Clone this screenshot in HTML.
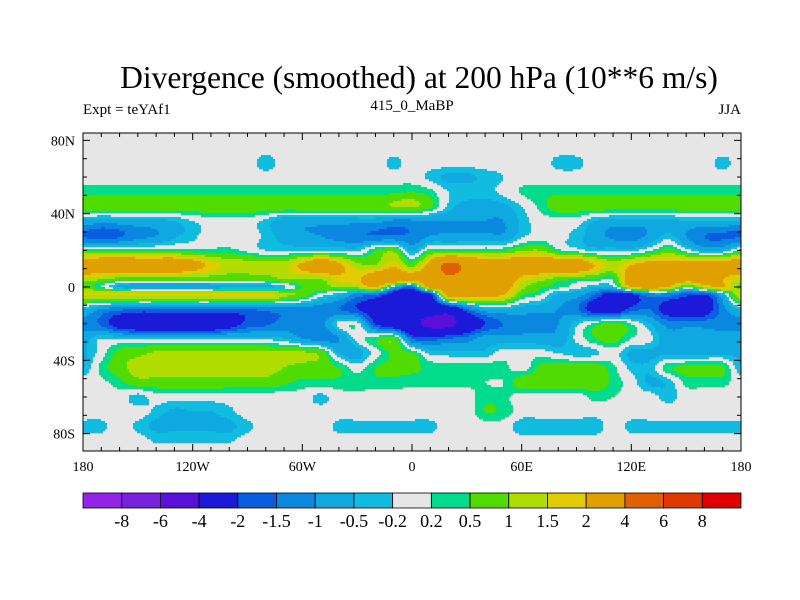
<!DOCTYPE html>
<html><head><meta charset="utf-8"><style>
body{margin:0;background:#fff;width:800px;height:600px;overflow:hidden;font-family:"Liberation Serif",serif}
svg{position:absolute;left:0;top:0}
</style></head><body>
<svg id="chart" width="800" height="600">
<text x="419" y="88" text-anchor="middle" font-size="31.5" font-family="Liberation Serif">Divergence (smoothed) at 200 hPa (10**6 m/s)</text>
<text x="83" y="114" font-size="15" font-family="Liberation Serif">Expt = teYAf1</text>
<text x="412" y="110" text-anchor="middle" font-size="15" font-family="Liberation Serif">415_0_MaBP</text>
<text x="741" y="114" text-anchor="end" font-size="15" font-family="Liberation Serif">JJA</text>
<g id="field"></g>
<g id="axes"></g>
<g id="cbar"></g>
</svg>
<script>
const lons=[];for(let l=-180;l<=180;l+=10)lons.push(l);
const lats=[84,76,68,60,52,44,36,28,20,12,4,0,-4,-12,-20,-28,-36,-44,-52,-60,-68,-76,-84,-90];
const levels=[-8,-6,-4,-2,-1.5,-1,-0.5,-0.2,0.2,0.5,1,1.5,2,4,6,8];
const levelLabels=["-8","-6","-4","-2","-1.5","-1","-0.5","-0.2","0.2","0.5","1","1.5","2","4","6","8"];
const colors=['#9225e8','#7a20e0','#5a10d8','#1a1ad8','#0a5ce0','#0a88e0','#10a8e0','#10bce0','#e6e6e6','#00dc8c','#50dc00','#b0dc00','#e0cc00','#e0a000','#e06000','#e03800','#e00000'];
const xTickLabels=["180","120W","60W","0","60E","120E","180"];
const xTickLons=[-180,-120,-60,0,60,120,180];
const yTickLabels=["80N","40N","0","40S","80S"];
const yTickLats=[80,40,0,-40,-80];
const row84=[0,0,0,0,0,0,0,0,0,0,0,0,0,0,0,0,0,0,0,0,0,0,0,0,0,0,0,0,0,0,0,0,0,0,0,0,0];
const row76=[0,0,0,0,0,0,0,0,0,0,0,0,0,0,0,0,0,0,0,0,0,0,0,0,0,0,0,0,0,0,0,0,0,0,0,0,0];
const row68=[0,0,0,0,0,0,0,0,0,0,-0.35,0,0,0,0,0,0,-0.3,0,0,0,0,0,0,0,0,-0.3,-0.3,0,0,0,0,0,0,0,-0.3,0];
const row60=[0,0,0,0,0,0,0,0,0,0,0,0,0,0,0,0,0,0,0,-0.3,-0.6,-0.6,-0.4,-0.2,0,0,0,0,0,0,0,0,0,0,0,0,0];
const row52=[0.4,0.4,0.4,0.4,0.4,0.4,0.4,0.4,0.4,0.4,0.4,0.4,0.4,0.4,0.4,0.4,0.4,0.4,0.5,0.3,-0.2,-0.3,-0.3,-0.1,0.25,0.4,0.4,0.4,0.4,0.4,0.4,0.4,0.4,0.4,0.4,0.4,0.4];
const row44=[0.8,0.8,0.8,0.8,0.8,0.8,0.8,0.8,0.8,0.8,0.8,0.8,0.8,0.8,0.8,0.8,0.8,1.0,1.1,0.6,-0.3,-0.7,-0.8,-0.6,-0.2,0.3,0.75,0.75,0.75,0.75,0.75,0.75,0.75,0.75,0.75,0.75,0.8];
const row36=[-0.6,-0.8,-0.7,-0.6,-0.6,-0.5,-0.2,0,0,0,-0.3,-0.8,-0.8,-0.8,-0.8,-0.8,-0.8,-1.1,-1.1,-1.0,-1.0,-1.0,-1.0,-1.0,-0.4,0,0,0,-0.5,-0.7,-0.7,-0.7,-0.7,-0.5,-0.5,-0.5,-0.6];
const row28=[-1.6,-1.8,-1.6,-1.2,-1.0,-0.6,-0.3,0,0,0,-0.3,-0.7,-0.9,-1.0,-1.2,-1.4,-1.5,-1.5,-1.4,-1.0,-0.9,-0.9,-0.9,-0.9,-0.3,0,-0.1,-0.3,-0.8,-1.1,-1.2,-0.9,-0.4,-1.0,-1.5,-1.6,-1.6];
const row20=[0.3,0.35,0.35,0.35,0.35,0.4,0.3,0.3,0.3,0.1,-0.2,-0.2,-0.2,-0.2,-0.2,-0.3,0.5,0.8,-0.6,0.4,0.5,0.5,0.5,0.5,0.9,1.0,0.3,0,-0.3,-0.3,-0.3,0.1,0.7,0,-0.6,-0.5,0.3];
const row12=[3,3,3,3,3,3,2.5,1.8,1.3,1.3,1.3,1.3,2.2,3,2.2,1.2,1.0,1.8,0.8,2.5,4.5,3.5,3,3,3,3,3,3,2.0,1.3,2,2.5,2.5,2.5,2.5,2.5,3];
const row4=[1.3,1.0,0.7,0.6,0.6,0.6,0.6,0.6,0.6,0.6,0.7,1.0,1.0,1.0,1.7,1.8,3,3,2.5,3,3.5,3,3,3,1.7,1.2,0.7,0.5,0.4,0.3,3,3.5,3,2.5,2.5,2,1.3];
const row0=[0.8,0.2,-0.6,-0.8,-0.8,-0.8,-0.8,-0.8,-0.6,-0.6,-0.6,-0.3,0.5,0.8,1.0,1.2,2.0,-0.5,-1.5,2.5,2.5,2.5,2.5,2.5,1.2,0.6,0.3,0,-0.5,-0.3,2,2.5,2,0.3,1.5,2,0.8];
const rowS4=[1.5,1.6,1.6,1.6,1.6,1.6,1.6,1.6,1.8,1.8,1.8,1.2,0.8,0,-0.4,-1.2,-1.5,-2.5,-3,-2.2,2.5,2.5,2.5,2,0.6,0.2,-0.6,-0.8,-1.5,-2.5,-2.2,-1.2,-1.2,-1.8,-2,-0.5,1.5];
const rowS12=[-0.4,-1.0,-1.3,-1.5,-1.5,-1.5,-1.5,-1.5,-1.5,-1.5,-1.3,-1.2,-1.2,-1.3,-1.5,-2,-2.6,-3.2,-3.2,-3,-3,-1.5,-0.6,-0.5,-0.7,-0.8,-1.0,-1.4,-2.5,-2.8,-1.8,-1.5,-2.5,-2.8,-2.6,-1.2,-0.4];
const rowS20=[-1.2,-1.6,-2.5,-3,-3,-3,-3,-3,-2.5,-1.8,-1.6,-1.3,-1.2,-1.2,-0.1,0,-2.0,-3,-3.5,-4.5,-4.5,-3,-2,-1.5,-1.3,-1.2,-1.0,-0.3,0.3,0.7,0.2,-0.5,-1.2,-1.2,-1.2,-1.2,-1.2];
const rowS28=[-0.7,-0.2,-0.3,-0.3,-0.3,-0.3,-0.3,-0.3,-0.3,-0.3,-0.3,-0.5,-1.0,-1.3,-1.0,0,0.4,0.7,-1.6,-1.8,-1.5,-1.3,-0.8,-0.8,-0.8,-0.8,-0.8,-0.1,0.5,0.7,0.2,-0.1,-0.8,-0.8,-0.8,-0.8,-0.7];
const rowS36=[-0.6,0,0.7,0.8,1.1,1.1,1.1,1.1,1.1,1.1,1.1,1.1,1.1,0.8,-0.5,-0.7,0,0.6,0.5,-0.3,-0.4,-0.4,-0.4,0,0,0,-0.2,-0.4,-0.3,0,-0.6,-0.6,-0.6,-0.6,-0.6,-0.6,-0.6];
const rowS44=[-0.5,0.3,0.8,1.2,1.2,1.2,1.2,1.2,1.2,1.2,1.2,1.0,0.8,0.7,0.5,0,0.5,0.6,0.6,0.4,0.4,0.4,0.4,0.3,0,0.6,0.8,0.8,0.8,0.3,-0.3,-0.4,0.4,0.6,0.6,0.6,-0.5];
const rowS52=[0,0.1,0.4,0.8,0.8,0.8,0.8,0.8,0.8,0.8,0.8,0.6,0.4,0.4,0.4,0.4,0.4,0.4,0.3,0.3,0.3,0.3,0.2,0.2,0.8,0.8,0.8,0.8,0.8,0.4,0,-0.6,-0.4,0.3,0.3,0.3,0];
const rowS60=[0,0,0,-0.35,0,0,0,0,0,0,0,0,0,-0.3,0,0,0,0,0,0,0,0,0.4,0.3,0,0,0,0,0.3,0.2,0,0,-0.35,0,0,0,0];
const rowS68=[0,0,0,0,-0.3,-0.6,-0.5,-0.5,-0.3,0,0,0,0,0,0,0,0,0,0,0,0,0,0.5,0.4,0,0,0,0,0,0,0,0,0,0,0,0,0];
const rowS76=[-0.3,-0.3,0,-0.3,-0.6,-0.6,-0.6,-0.6,-0.6,-0.3,0,0,0,0,-0.3,-0.3,-0.3,-0.3,-0.3,-0.3,0,0,0,0,-0.4,-0.4,-0.4,-0.4,-0.4,0,-0.3,-0.3,-0.3,-0.3,-0.3,-0.3,-0.3];
const rowS84=[0,0,0,0,-0.25,-0.25,-0.25,-0.25,-0.25,0,0,0,0,0,0,0,0,0,0,0,0,0,0,0,0,0,0,0,0,0,0,0,0,0,0,0,0];
const rowS90=[0,0,0,0,0,0,0,0,0,0,0,0,0,0,0,0,0,0,0,0,0,0,0,0,0,0,0,0,0,0,0,0,0,0,0,0,0];
const field=[row84,row76,row68,row60,row52,row44,row36,row28,row20,row12,row4,row0,rowS4,rowS12,rowS20,rowS28,rowS36,rowS44,rowS52,rowS60,rowS68,rowS76,rowS84,rowS90];

const NS='http://www.w3.org/2000/svg';
const X0=83,X1=741,Y0=133,Y1=451;
const xScale=lon=>X0+(lon+180)*(X1-X0)/360;
const yScale=lat=>287-lat*1.833;
const lonOf=x=>(x-X0)*360/(X1-X0)-180;
const latOf=y=>(287-y)/1.833;
function colorIdx(v){let k=0;while(k<levels.length&&v>=levels[k])k++;return k;}
function cr(p0,p1,p2,p3,t){
  return 0.5*((2*p1)+(-p0+p2)*t+(2*p0-5*p1+4*p2-p3)*t*t+(-p0+3*p1-3*p2+p3)*t*t*t);
}
function rowAt(j,lon){
  const r=field[Math.max(0,Math.min(field.length-1,j))];
  let i=Math.min(lons.length-2,Math.max(0,Math.floor((lon-lons[0])/10)));
  let t=Math.max(0,Math.min(1,(lon-lons[i])/10));
  const g=k=>r[Math.max(0,Math.min(r.length-1,k))];
  return cr(g(i-1),g(i),g(i+1),g(i+2),t);
}
function sample(lon,lat){
  let j=0;while(j<lats.length-2&&lat<lats[j+1])j++;
  let t=(lats[j]-lat)/(lats[j]-lats[j+1]);t=Math.max(0,Math.min(1,t));
  return cr(rowAt(j-1,lon),rowAt(j,lon),rowAt(j+1,lon),rowAt(j+2,lon),t);
}
function mk(tag,attrs,parent){const e=document.createElementNS(NS,tag);for(const k in attrs)e.setAttribute(k,attrs[k]);parent.appendChild(e);return e;}
const fg=document.getElementById('field');
const bg=mk('rect',{x:X0,y:Y0,width:X1-X0,height:Y1-Y0,fill:colors[8]},fg);


const S=2;
for(let y=Y0;y<Y1;y+=S){
  const lat=latOf(y+S/2);
  let runStart=X0,runC=-1;
  for(let x=X0;x<=X1;x+=S){
    const c=x<X1?colorIdx(sample(lonOf(x+S/2),lat)):-2;
    if(c!==runC){
      if(runC>=0&&runC!==8){
        const r=mk('rect',{x:runStart,y:y,width:Math.min(x,X1)-runStart,height:Math.min(S,Y1-y)+0.3,fill:colors[runC]},fg);
        
        
      }
      runStart=x;runC=c;
    }
  }
}
const ax=document.getElementById('axes');
mk('rect',{x:X0,y:Y0,width:X1-X0,height:Y1-Y0,fill:'none',stroke:'#000','stroke-width':1},ax);
for(let l=-180;l<=180;l+=10){
  const x=xScale(l),len=(l%60===0)?7:4;
  mk('line',{x1:x,y1:Y1,x2:x,y2:Y1-len,stroke:'#000'},ax);
  mk('line',{x1:x,y1:Y0,x2:x,y2:Y0+len,stroke:'#000'},ax);
}
for(let l=-80;l<=80;l+=10){
  const y=yScale(l),len=(l%40===0)?7:4;
  mk('line',{x1:X0,y1:y,x2:X0+len,y2:y,stroke:'#000'},ax);
  mk('line',{x1:X1,y1:y,x2:X1-len,y2:y,stroke:'#000'},ax);
}
xTickLabels.forEach((t,i)=>{
  const e=mk('text',{x:xScale(xTickLons[i]),y:471,'text-anchor':'middle','font-size':14},ax);e.textContent=t;
  
  
});
yTickLabels.forEach((t,i)=>{
  const e=mk('text',{x:75,y:yScale(yTickLats[i])+5,'text-anchor':'end','font-size':14},ax);e.textContent=t;
  
  
});
const cb=document.getElementById('cbar');
const CB0=83,CB1=741,CBY=493,CBH=15,bw=(CB1-CB0)/colors.length;
colors.forEach((c,i)=>{
  const r=mk('rect',{x:CB0+i*bw,y:CBY,width:bw,height:CBH,fill:c,stroke:'#000','stroke-width':0.8},cb);
  
  
});
levelLabels.forEach((t,i)=>{
  const e=mk('text',{x:CB0+(i+1)*bw,y:527,'text-anchor':'middle','font-size':18},cb);e.textContent=t;
  
  
});
</script>
</body></html>
